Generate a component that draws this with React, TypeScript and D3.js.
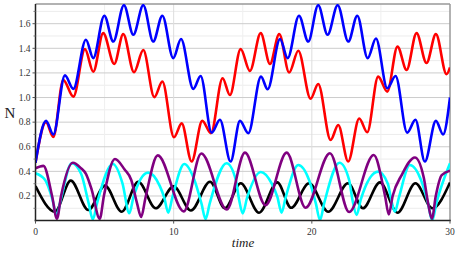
import React from "react"
import * as d3 from "d3"

type Pt = [number, number]

// time, N (peaks, troughs and a few flank points)
const blue: Pt[] = [
  [0, 0.47], [0.76, 0.81], [1.29, 0.7], [2.13, 1.18], [2.74, 1.07], [3.65, 1.47],
  [4.18, 1.32], [4.98, 1.665], [5.63, 1.455], [6.4, 1.75], [7.08, 1.51], [7.8, 1.75],
  [8.52, 1.455], [9.18, 1.665], [9.97, 1.32], [10.53, 1.475], [11.42, 1.07], [11.95, 1.175],
  [12.75, 0.715], [13.35, 0.82], [14.12, 0.48], [14.8, 0.81], [15.4, 0.71], [16.32, 1.17],
  [16.8, 1.067], [17.7, 1.475], [18.25, 1.32], [19.07, 1.665], [19.74, 1.455], [20.46, 1.75],
  [21.14, 1.51], [21.87, 1.75], [22.64, 1.455], [23.29, 1.665], [24.04, 1.32], [24.64, 1.48],
  [25.46, 1.075], [26.06, 1.175], [26.9, 0.715], [27.5, 0.82], [28.18, 0.48], [28.98, 0.81],
  [29.5, 0.7], [30, 1.0],
]

const red: Pt[] = [
  [0, 0.47], [0.76, 0.8], [1.29, 0.68], [2.01, 1.143], [2.74, 1.007], [3.58, 1.393],
  [4.18, 1.21], [4.9, 1.523], [5.7, 1.273], [6.35, 1.515], [7.13, 1.206], [7.8, 1.386],
  [8.6, 1.003], [9.18, 1.13], [10.02, 0.677], [10.58, 0.79], [11.3, 0.48], [12.07, 0.81],
  [12.7, 0.71], [13.54, 1.157], [14.07, 1.02], [14.85, 1.393], [15.52, 1.216], [16.3, 1.523],
  [16.97, 1.273], [17.64, 1.515], [18.36, 1.203], [19.02, 1.38], [19.91, 0.99], [20.46, 1.11],
  [21.36, 0.655], [21.91, 0.777], [22.63, 0.48], [23.43, 0.83], [24.01, 0.718], [24.8, 1.17],
  [25.46, 1.048], [26.2, 1.414], [26.86, 1.224], [27.58, 1.523], [28.3, 1.28], [28.98, 1.515],
  [29.75, 1.19], [30, 1.245],
]

const black: Pt[] = [
  [0, 0.28], [1.41, 0.072], [2.55, 0.325], [3.82, 0.086], [5.03, 0.284], [6.24, 0.072],
  [7.44, 0.316], [8.7, 0.1], [10.0, 0.278], [11.25, 0.082], [12.63, 0.316], [13.71, 0.1],
  [14.85, 0.303], [16.18, 0.064], [17.5, 0.311], [18.5, 0.104], [19.8, 0.303], [21.19, 0.072],
  [22.62, 0.303], [23.7, 0.1], [24.93, 0.311], [26.2, 0.064], [27.5, 0.303], [28.72, 0.1],
  [30, 0.31],
]

const cyan: Pt[] = [
  [0, 0.385], [0.7, 0.33], [1.23, 0.17], [1.53, 0.04], [1.83, 0.17], [2.62, 0.466],
  [3.3, 0.38], [3.85, 0.14], [4.15, 0.01], [4.45, 0.14], [5.6, 0.46], [6.3, 0.3],
  [6.79, 0.06], [7.09, 0.19], [8.16, 0.39], [9.0, 0.28], [9.31, 0.19], [9.61, 0.064],
  [9.91, 0.19], [10.77, 0.46], [11.5, 0.33], [12.01, 0.14], [12.31, 0.013], [12.61, 0.14],
  [13.83, 0.466], [14.5, 0.33], [14.72, 0.18], [15.0, 0.059], [15.3, 0.18], [16.3, 0.395],
  [17.1, 0.3], [17.51, 0.19], [17.81, 0.064], [18.11, 0.19], [19.02, 0.452], [19.8, 0.33],
  [20.29, 0.14], [20.59, 0.005], [20.89, 0.14], [22.0, 0.47], [22.7, 0.33], [22.94, 0.17],
  [23.24, 0.046], [23.54, 0.17], [24.8, 0.398], [25.5, 0.3], [25.71, 0.19], [26.01, 0.072],
  [26.31, 0.19], [27.1, 0.452], [27.9, 0.33], [28.41, 0.14], [28.71, 0.0], [29.01, 0.14],
  [30, 0.466],
]

const purple: Pt[] = [
  [0, 0.425], [0.57, 0.445], [1.2, 0.2], [1.55, 0.015], [1.85, 0.2], [2.7, 0.47],
  [3.3, 0.425], [3.65, 0.38], [4.07, 0.25], [4.65, 0.015], [4.95, 0.2], [5.75, 0.5],
  [6.45, 0.415], [6.93, 0.33], [7.35, 0.14], [7.65, 0.03], [7.95, 0.18], [8.85, 0.53],
  [10.73, 0.075], [12.0, 0.545], [13.85, 0.09], [15.16, 0.552], [16.65, 0.125], [18.18, 0.552],
  [19.55, 0.105], [21.31, 0.547], [22.7, 0.07], [24.48, 0.533], [25.3, 0.2], [25.57, 0.05],
  [25.85, 0.2], [26.5, 0.37], [27.46, 0.513], [28.1, 0.35], [28.4, 0.15], [28.69, 0.015],
  [28.97, 0.2], [29.4, 0.37], [30, 0.405],
]

const series = [
  { name: "black", color: "#000000", pts: black },
  { name: "cyan", color: "#00ffff", pts: cyan },
  { name: "purple", color: "#800080", pts: purple },
  { name: "red", color: "#ff0000", pts: red },
  { name: "blue", color: "#0000ff", pts: blue },
]

const yTicks = [0.2, 0.4, 0.6, 0.8, 1.0, 1.2, 1.4, 1.6]
const xTicks = [0, 10, 20, 30]

const W = 458
const H = 253

export default function App() {
  const margin = { top: 4, right: 8, bottom: 32.4, left: 35.5 }
  const x = d3.scaleLinear().domain([0, 30]).range([margin.left, W - margin.right])
  const y = d3.scaleLinear().domain([0, 1.76]).range([H - margin.bottom, margin.top])

  const line = d3
    .line<Pt>()
    .x((d) => x(d[0]))
    .y((d) => y(d[1]))
    .curve(d3.curveMonotoneX)

  const minorY = d3.range(0.1, 1.76, 0.2)
  const minorX = [5, 15, 25]
  const [x0, x1] = x.range()
  const [y0, y1] = y.range()
  const font = "'Liberation Serif', 'DejaVu Serif', serif"

  return (
    <svg
      width={W}
      height={H}
      style={{ position: "absolute", left: 0, top: 0, background: "#fff" }}
    >
      <defs>
        <clipPath id="plot">
          <rect x={x0} y={y1} width={x1 - x0} height={y0 - y1} />
        </clipPath>
      </defs>

      {/* grid */}
      {minorY.map((v) => (
        <line key={"my" + v} x1={x0} x2={x1} y1={y(v)} y2={y(v)} stroke="#ececec" strokeWidth={1} />
      ))}
      {minorX.map((v) => (
        <line key={"mx" + v} x1={x(v)} x2={x(v)} y1={y1} y2={y0} stroke="#efefef" strokeWidth={1} />
      ))}
      {yTicks.map((v) => (
        <line key={"gy" + v} x1={x0} x2={x1} y1={y(v)} y2={y(v)} stroke="#cccccc" strokeWidth={1} />
      ))}
      {[10, 20].map((v) => (
        <line key={"gx" + v} x1={x(v)} x2={x(v)} y1={y1} y2={y0} stroke="#dddddd" strokeWidth={1} />
      ))}

      {/* frame */}
      <line x1={x0} x2={x1} y1={y1} y2={y1} stroke="#999" strokeWidth={1.5} />
      <line x1={x1} x2={x1} y1={y1} y2={y0} stroke="#999" strokeWidth={1.5} />

      {/* curves */}
      <g clipPath="url(#plot)">
        {series.map((s) => (
          <path
            key={s.name}
            d={line(s.pts) || ""}
            fill="none"
            stroke={s.color}
            strokeWidth={2.6}
            strokeLinejoin="round"
          />
        ))}
      </g>

      {/* axes */}
      <line x1={x0} x2={x0} y1={y1} y2={y0 + 0.75} stroke="#222" strokeWidth={1.5} />
      <line x1={x0 - 0.75} x2={x1 + 0.75} y1={y0} y2={y0} stroke="#222" strokeWidth={1.5} />
      {yTicks.map((v) => (
        <line key={"ty" + v} x1={x0 - 3} x2={x0} y1={y(v)} y2={y(v)} stroke="#555" strokeWidth={1} />
      ))}
      {minorY.map((v) => (
        <line key={"tmy" + v} x1={x0 - 2} x2={x0} y1={y(v)} y2={y(v)} stroke="#777" strokeWidth={1} />
      ))}
      {xTicks.map((v) => (
        <line key={"tx" + v} x1={x(v)} x2={x(v)} y1={y0} y2={y0 + 3} stroke="#555" strokeWidth={1} />
      ))}

      {/* tick labels */}
      {yTicks.map((v) => (
        <text
          key={"ly" + v}
          x={x0 - 5}
          y={y(v)}
          dy="0.35em"
          textAnchor="end"
          fontFamily={font}
          fontSize={9.5}
          fill="#333"
        >
          {v.toFixed(1)}
        </text>
      ))}
      {xTicks.map((v) => (
        <text
          key={"lx" + v}
          x={x(v)}
          y={y0 + 14}
          textAnchor="middle"
          fontFamily={font}
          fontSize={9.5}
          fill="#333"
        >
          {v}
        </text>
      ))}

      {/* axis titles */}
      <text x={10} y={118} textAnchor="middle" fontFamily={font} fontSize={15} fill="#222">
        N
      </text>
      <text
        x={243}
        y={247}
        textAnchor="middle"
        fontFamily={font}
        fontStyle="italic"
        fontSize={13}
        fill="#222"
      >
        time
      </text>
    </svg>
  )
}
